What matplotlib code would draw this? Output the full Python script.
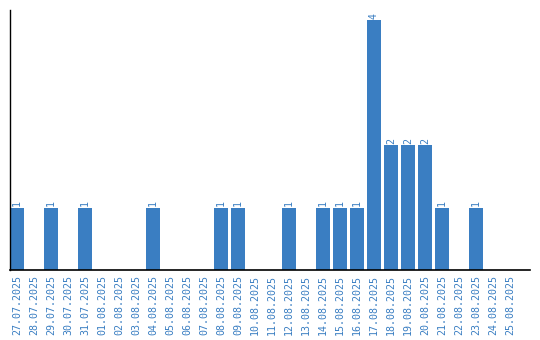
import matplotlib
matplotlib.use("Agg")
import matplotlib.pyplot as plt
import numpy as np

BLUE = "#3a7ec2"

DATES = [
    "27.07.2025", "28.07.2025", "29.07.2025", "30.07.2025", "31.07.2025",
    "01.08.2025", "02.08.2025", "03.08.2025", "04.08.2025", "05.08.2025",
    "06.08.2025", "07.08.2025", "08.08.2025", "09.08.2025", "10.08.2025",
    "11.08.2025", "12.08.2025", "13.08.2025", "14.08.2025", "15.08.2025",
    "16.08.2025", "17.08.2025", "18.08.2025", "19.08.2025", "20.08.2025",
    "21.08.2025", "22.08.2025", "23.08.2025", "24.08.2025", "25.08.2025",
]
COUNTS = [1, 0, 1, 0, 1, 0, 0, 0, 1, 0,
          0, 0, 1, 1, 0, 0, 1, 0, 1, 1,
          1, 4, 2, 2, 2, 1, 0, 1, 0, 0]

plt.rcParams["font.family"] = "DejaVu Sans Mono"

fig = plt.figure(figsize=(5.4, 3.4), dpi=100)
ax = fig.add_axes([10 / 540, 70 / 340, 520 / 540, 260 / 340])

x = np.arange(len(DATES))
width = 14 / 17
ax.bar(x, COUNTS, width=width, color=BLUE)

for xi, v in zip(x, COUNTS):
    if v > 0:
        ax.text(xi, v + 0.02, str(v), rotation=90, ha="center", va="bottom",
                fontsize=7.2, color=BLUE)

ax.set_xlim(-width / 2, 30.18)
ax.set_ylim(0, 4.16)
ax.set_xticks(x)
ax.set_xticklabels(DATES, rotation=90, fontsize=7.2, color=BLUE)
ax.tick_params(axis="x", length=0, pad=3.5)
ax.set_yticks([])
for s in ["top", "right"]:
    ax.spines[s].set_visible(False)
ax.spines["left"].set_linewidth(1)
ax.spines["bottom"].set_linewidth(1.2)

fig.savefig("out.png", dpi=100)
